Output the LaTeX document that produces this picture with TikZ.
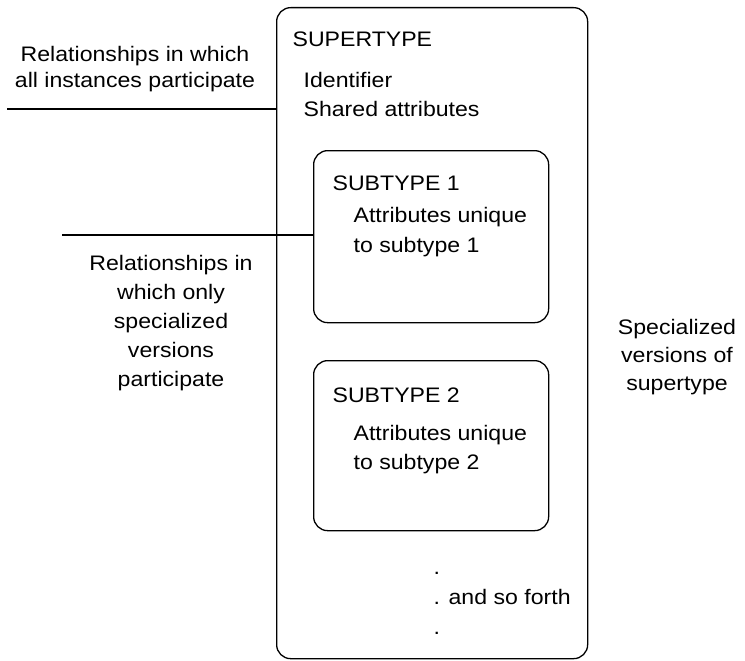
\documentclass[tikz,border=0pt]{standalone}
\usepackage{fontspec}
\setmainfont{Liberation Sans}[FakeStretch=1.1]
\begin{document}
\begin{tikzpicture}[x=1pt,y=-1pt,line width=1.3pt,
  box/.style={draw,rounded corners=14pt,inner sep=0pt,anchor=north west},
  txt/.style={inner sep=0pt,font=\fontsize{21}{29}\selectfont},
  lt/.style={txt,anchor=base west},
  ct/.style={txt,anchor=base}]
\useasboundingbox (0,0) rectangle (745,661);
% boxes
\node[box,minimum width=311pt,minimum height=651pt] (super) at (276,7) {};
\node[box,minimum width=235pt,minimum height=172pt] (sub1) at (313,150) {};
\node[box,minimum width=235pt,minimum height=170pt] (sub2) at (313,360) {};
% connectors
\coordinate (l1) at (7,109);
\coordinate (l2) at (62,235);
\draw (l1) -- (l1 -| super.west);
\draw (l2) -- (l2 -| sub1.west);
% supertype texts
\node[lt] (stname) at (292,47) {SUPERTYPE};
\node[lt] (stid) at (303,88) {Identifier};
\node[lt] (stsh) at (303,117) {Shared attributes};
% subtype 1
\node[lt] (s1name) at (332,190) {SUBTYPE 1};
\node[lt] (s1a) at (353,222) {Attributes unique};
\node[lt] (s1b) at (353,252) {to subtype 1};
% subtype 2
\node[lt] (s2name) at (332,402) {SUBTYPE 2};
\node[lt] (s2a) at (353,440) {Attributes unique};
\node[lt] (s2b) at (353,469) {to subtype 2};
% and so forth
\node[lt] (dot1) at (433,574) {.};
\node[lt] (forth) at (433,604) {. and so forth};
\node[lt] (dot2) at (433,634) {.};
% left labels
\node[ct] (ra1) at (135,62) {Relationships in which};
\node[ct] (ra2) at (135,88) {all instances participate};
\node[ct] (rb1) at (171,270) {Relationships in};
\node[ct] (rb2) at (171,299) {which only};
\node[ct] (rb3) at (171,328) {specialized};
\node[ct] (rb4) at (171,357) {versions};
\node[ct] (rb5) at (171,386) {participate};
% right label
\node[ct] (sv1) at (677,334) {Specialized};
\node[ct] (sv2) at (677,362) {versions of};
\node[ct] (sv3) at (677,390) {supertype};
\end{tikzpicture}
\end{document}
